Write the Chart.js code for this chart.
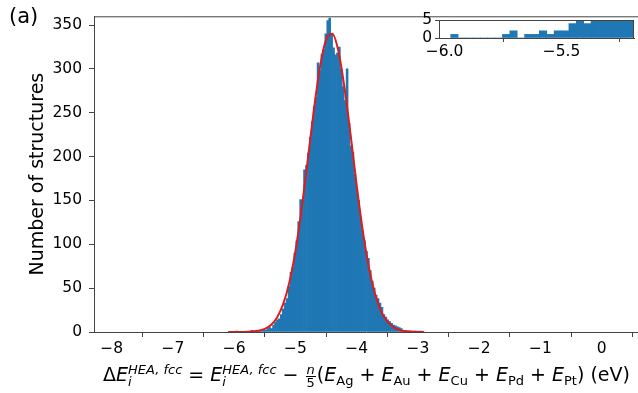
<!DOCTYPE html>
<html>
<head>
<meta charset="utf-8">
<script src="https://cdn.jsdelivr.net/npm/chart.js@4.4.0/dist/chart.umd.min.js"></script>
<style>
  html, body { margin: 0; padding: 0; background: #fff; overflow: hidden; }
  #wrap { position: relative; width: 638px; height: 393px; }
  #mainChart { position: absolute; left: 0; top: 0; }
  #insetChart { position: absolute; left: 400px; top: 0; }
  #panel { position: absolute; left: 9px; top: 4px; font: 21px "DejaVu Sans"; color: #000; }
  #xlabel { position: absolute; left: 103px; top: 364px; font: 19px "DejaVu Sans"; color: #000; white-space: nowrap; line-height: 19px; }
  #xlabel i { font-style: italic; }
  .ss { display: inline-block; vertical-align: -5px; font-size: 13px; line-height: 12px; font-style: italic; }
  .ss span { display: block; }
  .sb { font-size: 13px; vertical-align: -4px; line-height: 0; }
  .frac { display: inline-block; vertical-align: -6px; font-size: 13px; line-height: 12px; text-align: center; margin: 0 1px; }
  .frac span { display: block; }
  .frac .num { font-style: italic; border-bottom: 1px solid #000; padding: 0 1px; }
</style>
</head>
<body>
<div id="wrap">
  <canvas id="mainChart" width="638" height="393"></canvas>
  <canvas id="insetChart" width="238" height="62"></canvas>
  <div id="panel">(a)</div>
  <div id="xlabel">Δ<i>E</i><span class="ss"><span>HEA, fcc</span><span>i</span></span> = <i>E</i><span class="ss"><span>HEA, fcc</span><span>i</span></span> − <span class="frac"><span class="num">n</span><span>5</span></span>(<i>E</i><span class="sb">Ag</span> + <i>E</i><span class="sb">Au</span> + <i>E</i><span class="sb">Cu</span> + <i>E</i><span class="sb">Pd</span> + <i>E</i><span class="sb">Pt</span>) (eV)</div>
</div>
<script>
// histogram bins (eV)
const binStart = -5.974;
const binWidth = 0.0316;
const counts = [
  1, 0, 0, 0, 0, 0, 0, 1, 2, 0,
  1, 1, 2, 1, 2, 2, 4, 5, 4, 8,
  11, 14, 15, 20, 26, 33, 38, 52, 68, 74,
  90, 104, 126, 151, 150, 185, 190, 204, 222, 240,
  257, 268, 307, 298, 317, 322, 340, 355, 358, 340,
  324, 316, 318, 325, 300, 280, 264, 300, 238, 212,
  205, 180, 163, 150, 130, 115, 104, 92, 84, 70,
  58, 50, 42, 38, 33, 28, 20, 17, 14, 12,
  10, 8, 7, 6, 5, 4, 2, 2, 1, 1,
  1, 0, 1, 0, 0, 1
];

// gaussian fit
const fitX = [-6.1, -5.9, -5.7, -5.5, -5.4, -5.3, -5.2, -5.1, -5.0, -4.9, -4.8, -4.7, -4.6, -4.5, -4.4,
  -4.3, -4.2, -4.1, -4.0, -3.9, -3.8, -3.7, -3.6, -3.5, -3.4, -3.3, -3.2, -3.05, -2.9];
const fitY = [0, 0.1, 0.6, 3.6, 8, 16.6, 32, 56.6, 92.5, 140, 196, 253, 302, 333.5, 340,
  320.6, 279, 225, 167, 115, 73, 43, 23.3, 11.7, 5.4, 2.3, 0.9, 0.2, 0];

const xTicks = [-8, -7, -6, -5, -4, -3, -2, -1, 0];
const yTicks = [0, 50, 100, 150, 200, 250, 300, 350];
const insetXTicks = [-6.0, -5.5];
const insetYTicks = [0, 5];

Chart.defaults.font.family = "DejaVu Sans";
Chart.defaults.color = "#000";

const histData = counts.map((c, i) => ({ x: binStart + (i + 0.5) * binWidth, y: c }));
const fitData = fitX.map((x, i) => ({ x: x, y: fitY[i] }));
const minus = (s) => s.replace("-", "\u2212");

const frame = {
  id: "frame",
  afterDraw(chart, args, opts) {
    const { ctx, chartArea: a } = chart;
    ctx.save();
    ctx.strokeStyle = "#444";
    ctx.lineWidth = 1;
    ctx.beginPath();
    ctx.moveTo(a.left, a.top + 0.5);
    ctx.lineTo(a.right, a.top + 0.5);
    if (opts.right) {
      ctx.moveTo(a.right - 0.5, a.top);
      ctx.lineTo(a.right - 0.5, a.bottom);
    }
    ctx.stroke();
    ctx.restore();
  },
};

new Chart(document.getElementById("mainChart"), {
  type: "bar",
  data: {
    datasets: [
      {
        type: "line",
        data: fitData,
        borderColor: "#e31a1c",
        borderWidth: 2,
        pointRadius: 0,
        cubicInterpolationMode: "monotone",
        fill: false,
        order: 0,
      },
      {
        data: histData,
        backgroundColor: "#1f77b4",
        barPercentage: 1,
        categoryPercentage: 1,
        order: 1,
      },
    ],
  },
  options: {
    responsive: false,
    animation: false,
    layout: { padding: { top: 11, left: 0, right: 0, bottom: 0 } },
    plugins: { legend: { display: false }, tooltip: { enabled: false }, frame: { right: false } },
    scales: {
      x: {
        type: "linear",
        min: -8.289,
        max: 0.592,
        offset: false,
        afterFit: (s) => { s.height = 61; },
        afterBuildTicks: (s) => { s.ticks = xTicks.map((v) => ({ value: v })); },
        grid: { drawOnChartArea: false, tickLength: 5, color: "#444" },
        border: { color: "#444" },
        ticks: { font: { size: 15.5 }, padding: 3, maxRotation: 0, autoSkip: false, callback: (v) => minus(String(v)) },
      },
      y: {
        min: 0,
        max: 360,
        afterFit: (s) => { s.width = 94; },
        afterBuildTicks: (s) => { s.ticks = yTicks.map((v) => ({ value: v })); },
        grid: { drawOnChartArea: false, tickLength: 5, color: "#444" },
        border: { color: "#444" },
        ticks: { font: { size: 15.5 }, padding: 7, autoSkip: false },
        title: { display: true, text: "Number of structures", font: { size: 19 }, padding: { top: 27, bottom: 0 } },
      },
    },
  },
  plugins: [frame],
});

new Chart(document.getElementById("insetChart"), {
  type: "bar",
  data: {
    datasets: [
      {
        data: histData,
        backgroundColor: "#1f77b4",
        barPercentage: 1,
        categoryPercentage: 1,
      },
    ],
  },
  options: {
    responsive: false,
    animation: false,
    layout: { padding: { top: 20, left: 0, right: 4, bottom: 0 } },
    plugins: { legend: { display: false }, tooltip: { enabled: false }, frame: { right: true } },
    scales: {
      x: {
        type: "linear",
        min: -6.024,
        max: -5.19,
        offset: false,
        afterFit: (s) => { s.height = 24; },
        afterBuildTicks: (s) => { s.ticks = insetXTicks.map((v) => ({ value: v })); },
        grid: { drawOnChartArea: false, tickLength: 4, color: "#444" },
        border: { color: "#444" },
        ticks: { font: { size: 15.5 }, padding: 1, maxRotation: 0, autoSkip: false, callback: (v) => minus(v.toFixed(1)) },
      },
      y: {
        min: 0,
        max: 5,
        afterFit: (s) => { s.width = 39; },
        afterBuildTicks: (s) => { s.ticks = insetYTicks.map((v) => ({ value: v })); },
        grid: { drawOnChartArea: false, tickLength: 4, color: "#444" },
        border: { color: "#444" },
        ticks: { font: { size: 15.5 }, padding: 3, autoSkip: false },
      },
    },
  },
  plugins: [frame],
});
</script>
</body>
</html>
